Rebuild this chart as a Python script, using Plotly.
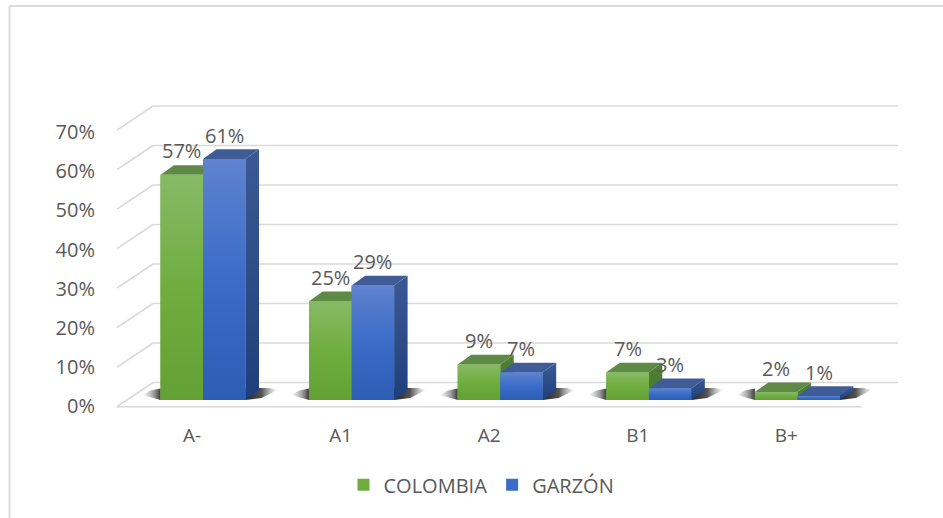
import plotly.graph_objects as go

categories = ["A-", "A1", "A2", "B1", "B+"]
colombia = [57, 25, 9, 7, 2]
garzon = [61, 29, 7, 3, 1]
series_names = ["COLOMBIA", "GARZÓN"]
grid_values = [0, 10, 20, 30, 40, 50, 60, 70]
y_tick_labels = ["0%", "10%", "20%", "30%", "40%", "50%", "60%", "70%"]

W, H = 943, 518
PX_X = 148.6      # pixels per category
PX_Y = 3.95       # pixels per percent
L, R, T, B = 100, 943, 60, 422
X0_PX, Y0_PX = 203, 400

def xd(px): return (px - X0_PX) / PX_X
def yd(px): return (Y0_PX - px) / PX_Y
def dxd(px): return px / PX_X

BW = 42.5 / PX_X
DX, DY = 13.5 / PX_X, 9.7 / PX_Y

FONT = "Open Sans"
TXT = "#595959"
GRID = "#d9d9d9"

palette = [
    dict(front=[[0, "#63a134"], [0.5, "#6fad3f"], [1, "#88ba66"]],
         side=[[0, "#467a28"], [1, "#4f7f33"]], top="#5e8a45", solid="#6fad3f"),
    dict(front=[[0, "#2c5eb5"], [0.5, "#3a6cc8"], [1, "#5f83cf"]],
         side=[[0, "#1f3f7c"], [1, "#3b5a95"]], top="#405c97", solid="#3a6cc8"),
]

fig = go.Figure()

# Real bars (carry legend entries and category scale)
for name, vals, pal in zip(series_names, [colombia, garzon], palette):
    fig.add_trace(go.Bar(x=list(range(len(categories))), y=vals, name=name,
                         marker=dict(color=pal["solid"], line=dict(width=0)),
                         width=BW, hoverinfo="skip"))


def poly(xs, ys, **kw):
    fig.add_trace(go.Scatter(x=xs, y=ys, mode="lines", fill="toself",
                             line=dict(width=0), showlegend=False,
                             hoverinfo="skip", **kw))

# floor shadows
for i in range(len(categories)):
    left = i - BW
    right = i + BW
    poly([left - dxd(18), left, left, left - dxd(10)],
         [yd(395), yd(400), yd(388.5), yd(390.5)],
         fillcolor="rgba(0,0,0,0)",
         fillgradient=dict(type="horizontal",
                           colorscale=[[0, "rgba(90,90,90,0)"], [0.6, "rgba(70,70,70,0.5)"], [1, "rgba(35,35,35,0.9)"]]))
    poly([right, right + dxd(16), right + dxd(32), right + dxd(24), right],
         [yd(400), yd(398), yd(390), yd(388), yd(388)],
         fillcolor="rgba(0,0,0,0)",
         fillgradient=dict(type="horizontal",
                           colorscale=[[0, "rgba(25,25,25,0.95)"], [0.5, "rgba(40,40,40,0.8)"], [1, "rgba(110,110,110,0)"]]))

# 3-D faces, drawn per category from the values
for i in range(len(categories)):
    for s, vals in enumerate([colombia, garzon]):
        v = vals[i]
        pal = palette[s]
        x1 = i - BW + s * BW
        x2 = x1 + BW
        poly([x2, x2 + DX, x2 + DX, x2, x2], [0, DY, v + DY, v, 0],
             fillcolor=pal["solid"],
             fillgradient=dict(type="vertical", colorscale=pal["side"]))
        poly([x1, x2, x2 + DX, x1 + DX, x1], [v, v, v + DY, v + DY, v],
             fillcolor=pal["top"])
        poly([x1, x2, x2, x1, x1], [0, 0, v, v, 0],
             fillcolor=pal["solid"],
             fillgradient=dict(type="vertical", colorscale=pal["front"]))

# Walls / gridlines
shapes = []
BACK_OFF, FRONT_OFF = yd(382.5), yd(406.7)
for g in grid_values:
    shapes.append(dict(type="line", layer="below", xref="x", yref="y",
                       x0=xd(153), x1=xd(898), y0=g + BACK_OFF, y1=g + BACK_OFF,
                       line=dict(color=GRID, width=1.6)))
    shapes.append(dict(type="line", layer="below", xref="x", yref="y",
                       x0=xd(117), x1=xd(153), y0=g + FRONT_OFF, y1=g + BACK_OFF,
                       line=dict(color=GRID, width=1.6)))
shapes.append(dict(type="line", layer="below", xref="x", yref="y",
                   x0=xd(117), x1=xd(862), y0=FRONT_OFF, y1=FRONT_OFF,
                   line=dict(color=GRID, width=1.6)))
# picture frame
fx = -(L - 9.5) / (R - L)
ftop = (B - 6) / (B - T)
shapes.append(dict(type="line", xref="paper", yref="paper", x0=fx, x1=1, y0=ftop, y1=ftop,
                   line=dict(color="#dcdcdc", width=2)))
shapes.append(dict(type="line", xref="paper", yref="paper", x0=fx, x1=fx, y0=ftop,
                   y1=(B - H) / (B - T), line=dict(color="#dcdcdc", width=2)))

# Data labels
annotations = []
for i in range(len(categories)):
    for s, vals in enumerate([colombia, garzon]):
        annotations.append(dict(x=i - BW / 2 + s * BW, y=vals[i], yshift=24, text=f"{vals[i]}%",
                                showarrow=False, xref="x", yref="y", yanchor="middle",
                                font=dict(family=FONT, size=20, color=TXT)))

fig.update_layout(
    width=W, height=H, autosize=False,
    margin=dict(l=L, r=W - R, t=T, b=H - B, pad=0),
    paper_bgcolor="white", plot_bgcolor="rgba(0,0,0,0)",
    barmode="group", bargap=1 - 2 * BW, bargroupgap=0,
    font=dict(family=FONT, size=20, color=TXT),
    shapes=shapes, annotations=annotations,
    showlegend=True,
    legend=dict(orientation="h", x=0.5106, xanchor="center", xref="container",
                y=0.064, yanchor="middle", yref="container",
                font=dict(family=FONT, size=20, color=TXT),
                itemsizing="constant", traceorder="normal"),
    xaxis=dict(range=[xd(L), xd(R)], showgrid=False, zeroline=False, showline=False,
               tickmode="array", tickvals=[i + xd(192) for i in range(len(categories))],
               ticktext=categories, ticks="", tickfont=dict(family=FONT, size=19, color=TXT)),
    yaxis=dict(range=[yd(B), yd(T)], showgrid=False, zeroline=False, showline=False,
               tickmode="array", tickvals=[g * 0.99 + yd(406) for g in grid_values],
               ticktext=y_tick_labels, ticks="", ticklabelstandoff=4,
               tickfont=dict(family=FONT, size=20, color=TXT)),
)

fig.write_html("out.html", config=dict(displayModeBar=False),
               post_script="document.body.style.margin='0';document.documentElement.style.overflow='hidden';")
